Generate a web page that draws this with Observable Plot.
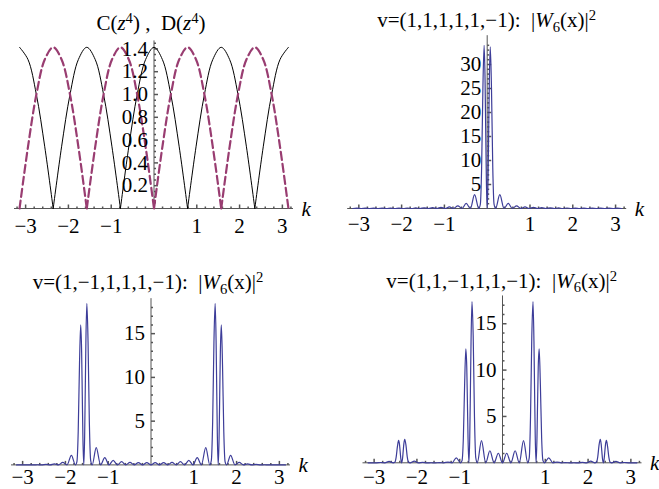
<!DOCTYPE html>
<html><head><meta charset="utf-8">
<script src="https://cdn.jsdelivr.net/npm/d3@7"></script>
<script src="https://cdn.jsdelivr.net/npm/@observablehq/plot@0.6"></script>
<style>
body{margin:0;background:#fff}
#fig{position:relative;width:659px;height:489px;overflow:hidden;font-family:"Liberation Serif","Times New Roman",Times,"DejaVu Serif","Noto Serif",serif;color:#000}
#fig svg{position:absolute;background:transparent;overflow:visible}
.title{position:absolute;font-size:21px;line-height:21px;white-space:nowrap;transform:translateX(-50%)}
.title sup,.title sub{font-size:70%;line-height:0;position:relative;vertical-align:baseline}
.title sup{top:-0.5em}.title sub{top:0.3em}
</style></head><body><div id="fig"></div>
<script>
// ---------- data ----------
// panel 1: C(z^4) (black) and D(z^4) (purple dashed)
const kC = [-3.142,-2.945,-2.749,-2.553,-2.356,-2.160,-1.963,-1.767,-1.571,-1.374,-1.178,-0.982,-0.785,-0.589,-0.393,-0.196,0,0.196,0.393,0.589,0.785,0.982,1.178,1.374,1.571,1.767,1.963,2.160,2.356,2.553,2.749,2.945,3.142];
const cVals = [1.414,1.307,1.0,0.541,0,0.541,1.0,1.307,1.414,1.307,1.0,0.541,0,0.541,1.0,1.307,1.414,1.307,1.0,0.541,0,0.541,1.0,1.307,1.414,1.307,1.0,0.541,0,0.541,1.0,1.307,1.414];
const dVals = [0,0.541,1.0,1.307,1.414,1.307,1.0,0.541,0,0.541,1.0,1.307,1.414,1.307,1.0,0.541,0,0.541,1.0,1.307,1.414,1.307,1.0,0.541,0,0.541,1.0,1.307,1.414,1.307,1.0,0.541,0];

// panel 2: v=(1,1,1,1,1,-1)
const kA = [-3.142,-3.043,-2.945,-2.847,-2.749,-2.651,-2.553,-2.454,-2.356,-2.258,-2.160,-2.062,-1.963,-1.865,-1.767,-1.669,-1.571,-1.473,-1.374,-1.276,-1.178,-1.080,-0.982,-0.884,-0.785,-0.687,-0.589,-0.491,-0.393,-0.295,-0.196,-0.16,-0.13,-0.10,-0.072,-0.05,-0.035,-0.02,0,0.02,0.035,0.05,0.072,0.10,0.13,0.16,0.196,0.295,0.393,0.491,0.589,0.687,0.785,0.884,0.982,1.080,1.178,1.276,1.374,1.473,1.571,1.669,1.767,1.865,1.963,2.062,2.160,2.258,2.356,2.454,2.553,2.651,2.749,2.847,2.945,3.043,3.142];
const wA = [0,0.063,0,0.064,0,0.066,0,0.07,0,0.077,0,0.085,0,0.10,0,0.11,0,0.14,0,0.18,0,0.24,0,0.34,0,0.55,0,1.06,0,2.9,0,0.9,8.7,25.3,34.0,26.8,16.4,6.2,0,6.2,16.3,26.6,33.7,25.1,8.6,0.9,0,2.9,0,1.06,0,0.55,0,0.34,0,0.24,0,0.18,0,0.14,0,0.11,0,0.10,0,0.085,0,0.077,0,0.07,0,0.066,0,0.064,0,0.063,0];

// panel 3: v=(1,-1,1,1,1,-1)
const kB = [-3.142,-2.945,-2.847,-2.749,-2.651,-2.553,-2.454,-2.356,-2.258,-2.160,-2.062,-1.963,-1.86,-1.767,-1.731,-1.701,-1.671,-1.643,-1.621,-1.606,-1.591,-1.571,-1.551,-1.536,-1.521,-1.499,-1.471,-1.441,-1.41,-1.374,-1.28,-1.178,-1.080,-0.982,-0.884,-0.785,-0.687,-0.589,-0.491,-0.393,-0.295,-0.196,-0.098,0,0.098,0.196,0.295,0.393,0.491,0.589,0.687,0.785,0.884,0.982,1.080,1.178,1.28,1.374,1.41,1.441,1.471,1.499,1.521,1.536,1.551,1.571,1.591,1.606,1.621,1.643,1.671,1.701,1.731,1.767,1.86,1.963,2.062,2.160,2.258,2.356,2.454,2.553,2.651,2.749,2.847,2.945,3.142];
const wB = [0,0,0.006,0,0.02,0,0.05,0,0.11,0,0.30,0,1.08,0,0.38,3.82,11.5,16.0,12.9,8.0,3.07,0,3.2,8.6,14.25,18.45,14.05,4.96,0.52,0,1.98,0,0.83,0,0.51,0,0.37,0,0.30,0,0.27,0,0.25,0,0.25,0,0.27,0,0.30,0,0.37,0,0.51,0,0.83,0,1.98,0,0.52,4.96,14.05,18.45,14.25,8.6,3.2,0,3.07,8.0,12.9,16.0,11.5,3.82,0.38,0,1.08,0,0.30,0,0.11,0,0.05,0,0.02,0,0.006,0,0];

// panel 4: v=(1,1,-1,1,1,-1)
const kD = [-3.142,-2.945,-2.847,-2.749,-2.651,-2.553,-2.516,-2.486,-2.456,-2.428,-2.406,-2.391,-2.376,-2.356,-2.336,-2.321,-2.306,-2.284,-2.256,-2.226,-2.196,-2.160,-2.062,-1.963,-1.865,-1.767,-1.669,-1.571,-1.473,-1.374,-1.276,-1.178,-1.080,-0.982,-0.945,-0.915,-0.885,-0.857,-0.835,-0.82,-0.805,-0.785,-0.765,-0.75,-0.735,-0.713,-0.685,-0.655,-0.625,-0.589,-0.491,-0.393,-0.295,-0.196,-0.098,0,0.098,0.196,0.295,0.393,0.491,0.589,0.625,0.655,0.685,0.713,0.735,0.75,0.765,0.785,0.805,0.82,0.835,0.857,0.885,0.915,0.945,0.982,1.080,1.178,1.276,1.374,1.473,1.571,1.669,1.767,1.865,1.963,2.062,2.160,2.196,2.226,2.256,2.284,2.306,2.321,2.336,2.356,2.376,2.391,2.406,2.428,2.456,2.486,2.516,2.553,2.651,2.749,2.847,2.945,3.142];
const wD = [0,0,0.03,0,0.15,0,0.057,0.58,1.74,2.41,1.94,1.19,0.45,0,0.46,1.24,2.02,2.53,1.9,0.64,0.065,0,0.19,0,0.04,0,0.005,0,0.01,0,0.08,0,0.54,0,0.25,2.65,8.45,12.3,10.3,6.55,2.57,0,2.83,7.75,13.1,17.4,13.7,4.98,0.55,0,2.4,0,1.30,0,1.03,0,1.03,0,1.30,0,2.4,0,0.55,4.98,13.7,17.4,13.1,7.75,2.83,0,2.57,6.55,10.3,12.3,8.45,2.65,0.25,0,0.54,0,0.08,0,0.01,0,0.005,0,0.04,0,0.19,0,0.065,0.64,1.9,2.53,2.02,1.24,0.46,0,0.45,1.19,1.94,2.41,1.74,0.58,0.057,0,0.15,0,0.03,0,0];

// tick labels
const xMajor = [-3,-2,-1,1,2,3];
const yMajor1 = [0.2,0.4,0.6,0.8,1.0,1.2,1.4];
const yMajor2 = [5,10,15,20,25,30];
const yMajor3 = [5,10,15];

// ---------- drawing ----------
const fig = document.getElementById("fig");
const axisColor = "#555";
const serif = "'Liberation Serif', 'Times New Roman', Times, 'DejaVu Serif', 'Noto Serif', serif";
const FS = 21;
const blue = "#3d3d99", purple = "#993d71";
const tickUp = len => ({draw(ctx){ctx.moveTo(0,0);ctx.lineTo(0,-len);}});
const tickRight = len => ({draw(ctx){ctx.moveTo(0,0);ctx.lineTo(len,0);}});
const fmtK = d => d < 0 ? "\u2212" + Math.abs(d) : String(d);
const xMinor = d3.range(-16,17).map(i => i*0.2).filter(v => Math.abs(v - Math.round(v)) > 1e-6);
const XD = [-3.26, 3.26];

function panel({pos, frame, yDomain, yMajor, yMinor, yFmt, lines, labelDy}) {
  const [L, T, W, H] = pos;
  const [fx0, fx1, fy0, fy1] = frame;
  const plot = Plot.plot({
    width: W, height: H,
    marginLeft: fx0 - L, marginRight: L + W - fx1, marginTop: fy0 - T, marginBottom: T + H - fy1,
    x: {domain: XD, axis: null},
    y: {domain: yDomain, axis: null},
    style: {background: "transparent", fontFamily: serif, fontSize: FS + "px", overflow: "visible"},
    marks: [
      Plot.ruleY([0], {stroke: axisColor, strokeWidth: 1}),
      Plot.ruleX([0], {stroke: axisColor, strokeWidth: 1}),
      Plot.dot(xMinor, {x: d => d, y: () => 0, symbol: tickUp(2), r: 1, stroke: axisColor, fill: "none"}),
      Plot.dot(xMajor, {x: d => d, y: () => 0, symbol: tickUp(4), r: 1, stroke: axisColor, fill: "none"}),
      Plot.dot(yMinor, {x: () => 0, y: d => d, symbol: tickRight(2), r: 1, stroke: axisColor, fill: "none"}),
      Plot.dot(yMajor, {x: () => 0, y: d => d, symbol: tickRight(4), r: 1, stroke: axisColor, fill: "none"}),
      ...lines,
      Plot.text(xMajor, {x: d => d, y: () => 0, text: fmtK, dy: labelDy, lineAnchor: "bottom", fontSize: FS, fontFamily: serif, fill: "#000"}),
      Plot.text(yMajor, {x: () => 0, y: d => d, text: yFmt, textAnchor: "end", dx: -6, lineAnchor: "middle", fontSize: FS, fontFamily: serif, fill: "#000"}),
      Plot.text(["k"], {x: () => XD[1], y: () => 0, text: d => d, dx: 8, dy: 7, textAnchor: "start", lineAnchor: "bottom", fontStyle: "italic", fontSize: FS, fontFamily: serif, fill: "#000"})
    ]
  });
  plot.style.left = L + "px"; plot.style.top = T + "px";
  fig.appendChild(plot);
}

function arches(ks, vs) {
  const rows = []; let seg = 0;
  ks.forEach((k, i) => {
    rows.push({k, v: vs[i], seg});
    if (vs[i] === 0 && i > 0 && i < ks.length - 1) { seg++; rows.push({k, v: vs[i], seg}); }
  });
  return rows;
}
const rows = (ks, vs) => ks.map((k, i) => ({k, v: vs[i]}));

const yMinor1 = d3.range(1,30).filter(i => i % 4 !== 0).map(i => i*0.05);
const minorInt = n => d3.range(1,n+1).filter(i => i % 5 !== 0);

panel({pos: [0,0,330,245], frame: [153.5-139.5, 153.5+139.5, 208-1.47*114, 208], yDomain: [0,1.47],
  yMajor: yMajor1, yMinor: yMinor1, yFmt: d => d.toFixed(1), labelDy: 24.5,
  lines: [
    Plot.line(arches(kC, cVals), {x: "k", y: "v", z: "seg", curve: "catmull-rom", stroke: "#000", strokeWidth: 1}),
    Plot.line(arches(kC, dVals), {x: "k", y: "v", z: "seg", curve: "catmull-rom", stroke: purple, strokeWidth: 2.2, strokeDasharray: "8,4"})
  ]});
panel({pos: [330,0,329,245], frame: [486.7-139.5, 486.7+139.5, 208-36*4.8, 208], yDomain: [0,36],
  yMajor: yMajor2, yMinor: minorInt(35), yFmt: String, labelDy: 22,
  lines: [Plot.line(rows(kA, wA), {x: "k", y: "v", curve: "monotone-x", stroke: blue, strokeWidth: 1.2})]});
panel({pos: [0,245,330,244], frame: [150.5-139.5, 150.5+139.5, 464.4-19*8.75, 464.4], yDomain: [0,19],
  yMajor: yMajor3, yMinor: minorInt(18), yFmt: String, labelDy: 19.5,
  lines: [Plot.line(rows(kB, wB), {x: "k", y: "v", curve: "monotone-x", stroke: blue, strokeWidth: 1.2})]});
panel({pos: [330,245,329,244], frame: [502-139.5, 502+139.5, 462.3-18*9.27, 462.3], yDomain: [0,18],
  yMajor: yMajor3, yMinor: minorInt(17), yFmt: String, labelDy: 21.5,
  lines: [Plot.line(rows(kD, wD), {x: "k", y: "v", curve: "monotone-x", stroke: blue, strokeWidth: 1.2})]});

function title(html, cx, baseline) {
  const d = document.createElement("div");
  d.className = "title"; d.innerHTML = html;
  d.style.left = cx + "px"; d.style.top = (baseline - 17.6) + "px";
  fig.appendChild(d);
}
const W6 = "|<i>W</i><sub>6</sub>(x)|<sup>2</sup>";
title("C(<i>z</i><sup>4</sup>)&nbsp;,&nbsp;&nbsp;D(<i>z</i><sup>4</sup>)", 151, 31);
title("v=(1,1,1,1,1,\u22121):&nbsp;&nbsp;" + W6, 486.7, 28);
title("v=(1,\u22121,1,1,1,\u22121):&nbsp;&nbsp;" + W6, 148, 290);
title("v=(1,1,\u22121,1,1,\u22121):&nbsp;&nbsp;" + W6, 501.7, 288.5);
</script></body></html>
